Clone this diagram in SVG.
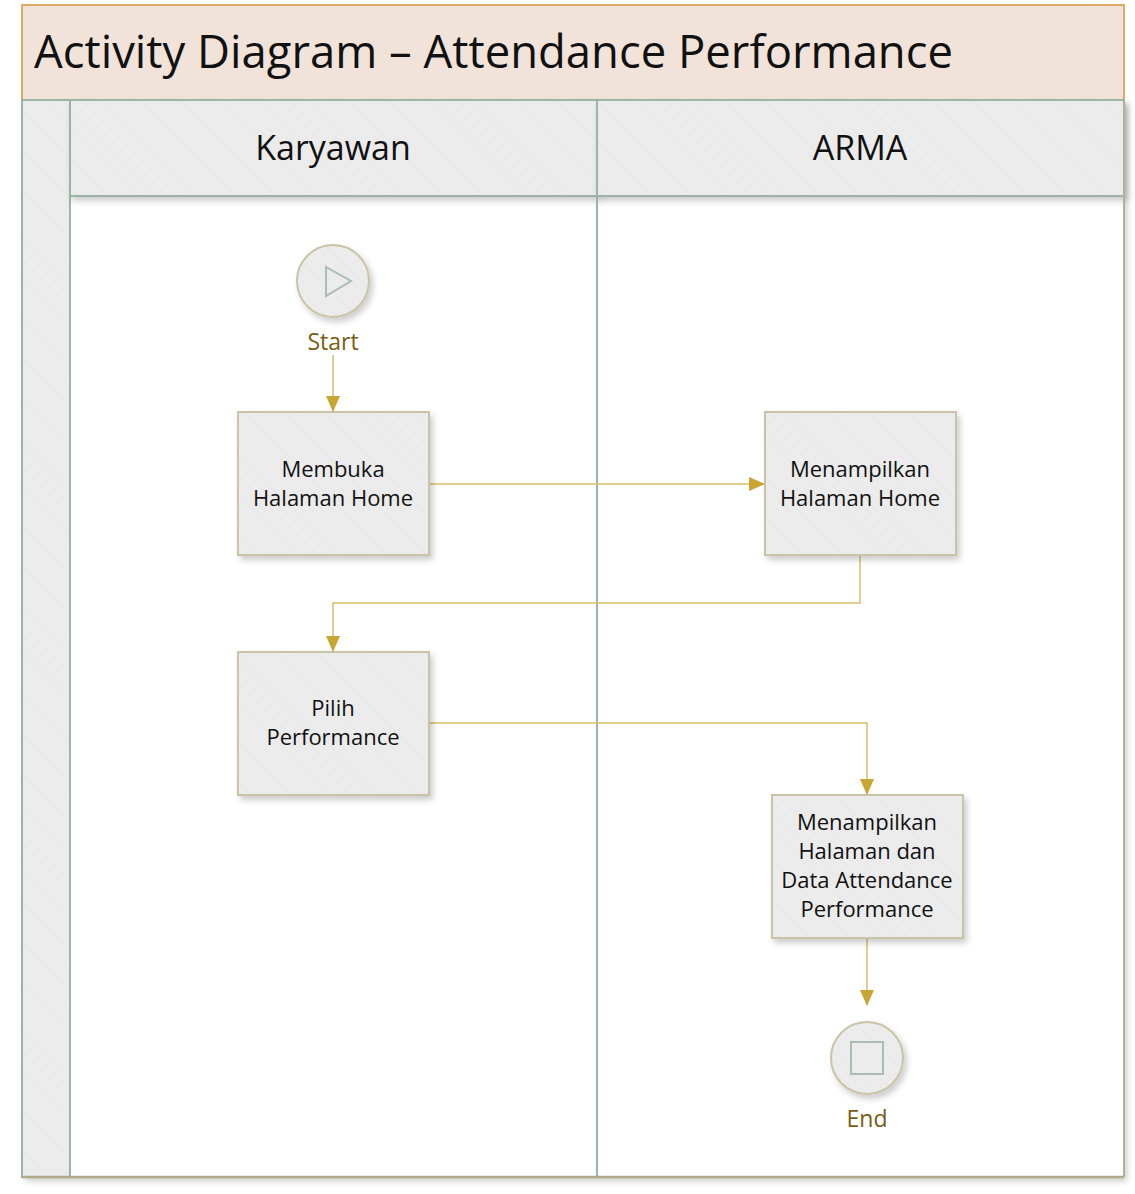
<svg xmlns="http://www.w3.org/2000/svg" width="1135" height="1194" viewBox="0 0 1135 1194">
<style>
  .txt{font-family:"Open Sans","Noto Sans","Liberation Sans",sans-serif;fill:#111;}
  .box{fill:url(#hatch);stroke:#cbc3a5;stroke-width:2;filter:url(#sh);}
  .lbl{font-size:22px;text-anchor:middle;}
  .ev{font-family:"Open Sans","Noto Sans","Liberation Sans",sans-serif;font-size:23px;fill:#7a5c12;text-anchor:middle;}
  .conn{fill:none;stroke:#d8bf6a;stroke-width:1.5;}
  .lane{stroke:#9cb3a8;stroke-width:2;}
</style>
<defs>
  <pattern id="hatch" width="7" height="7" patternUnits="userSpaceOnUse" patternTransform="rotate(-45)">
    <rect width="7" height="7" fill="#ececec"/>
    <line x1="0" y1="0" x2="0" y2="7" stroke="#e6e6e6" stroke-width="1.5"/>
  </pattern>
  <filter id="sh" x="-10%" y="-10%" width="130%" height="130%">
    <feDropShadow dx="3" dy="4" stdDeviation="3" flood-color="#000" flood-opacity="0.2"/>
  </filter>
  <marker id="arr" markerWidth="16" markerHeight="16" refX="15" refY="8" orient="auto" markerUnits="userSpaceOnUse">
    <path d="M0,1 L16,8 L0,15 Z" fill="#c9a634"/>
  </marker>
</defs>

<g id="frame">
  <rect x="22" y="100" width="1102" height="1077" fill="#fff" filter="url(#sh)"/>
  <rect x="22" y="5" width="1102" height="95" fill="#f2e3da" stroke="#e2a868" stroke-width="2"/>
  <text class="txt" x="34" y="68" font-size="45" textLength="919" lengthAdjust="spacingAndGlyphs">Activity Diagram – Attendance Performance</text>
  <rect x="22" y="100" width="48" height="1077" fill="url(#hatch)" stroke="#9cb3a8" stroke-width="2"/>
  <rect x="70" y="100" width="527" height="96" fill="url(#hatch)" stroke="#9cb3a8" stroke-width="2" filter="url(#sh)"/>
  <rect x="597" y="100" width="527" height="96" fill="url(#hatch)" stroke="#9cb3a8" stroke-width="2" filter="url(#sh)"/>
  <text class="txt" x="333" y="160" font-size="34" text-anchor="middle">Karyawan</text>
  <text class="txt" x="860" y="160" font-size="34" text-anchor="middle">ARMA</text>
  <line class="lane" x1="597" y1="196" x2="597" y2="1177"/>
  <line x1="1124" y1="100" x2="1124" y2="1177" stroke="#b4b090" stroke-width="2"/>
  <line x1="22" y1="1177" x2="1124" y2="1177" stroke="#b0aa88" stroke-width="2.5"/>
</g>

<g id="connectors">
  <line class="conn" x1="333" y1="355" x2="333" y2="411" marker-end="url(#arr)"/>
  <line class="conn" x1="429" y1="484" x2="764" y2="484" marker-end="url(#arr)"/>
  <polyline class="conn" points="860,555 860,603 333,603 333,651" marker-end="url(#arr)"/>
  <polyline class="conn" points="429,723 867,723 867,794" marker-end="url(#arr)"/>
  <line class="conn" x1="867" y1="938" x2="867" y2="1005" marker-end="url(#arr)"/>
</g>

<g id="start">
  <circle cx="333" cy="281" r="36" fill="url(#hatch)" stroke="#cbc3a5" stroke-width="2" filter="url(#sh)"/>
  <path d="M326,267 L351,281 L326,296 Z" fill="none" stroke="#a8bcb4" stroke-width="2"/>
  <text class="ev" x="333" y="350">Start</text>
</g>

<g id="n1">
  <rect class="box" x="238" y="412" width="191" height="143"/>
  <text class="txt lbl" x="333" y="477">Membuka</text>
  <text class="txt lbl" x="333" y="506">Halaman Home</text>
</g>

<g id="n2">
  <rect class="box" x="765" y="412" width="191" height="143"/>
  <text class="txt lbl" x="860" y="477">Menampilkan</text>
  <text class="txt lbl" x="860" y="506">Halaman Home</text>
</g>

<g id="n3">
  <rect class="box" x="238" y="652" width="191" height="143"/>
  <text class="txt lbl" x="333" y="716">Pilih</text>
  <text class="txt lbl" x="333" y="745">Performance</text>
</g>

<g id="n4">
  <rect class="box" x="772" y="795" width="191" height="143"/>
  <text class="txt lbl" x="867" y="830">Menampilkan</text>
  <text class="txt lbl" x="867" y="859">Halaman dan</text>
  <text class="txt lbl" x="867" y="888">Data Attendance</text>
  <text class="txt lbl" x="867" y="917">Performance</text>
</g>

<g id="end">
  <circle cx="867" cy="1058" r="36" fill="url(#hatch)" stroke="#cbc3a5" stroke-width="2" filter="url(#sh)"/>
  <rect x="851" y="1042" width="32" height="32" fill="none" stroke="#a8bcb4" stroke-width="2"/>
  <text class="ev" x="867" y="1127">End</text>
</g>
</svg>
